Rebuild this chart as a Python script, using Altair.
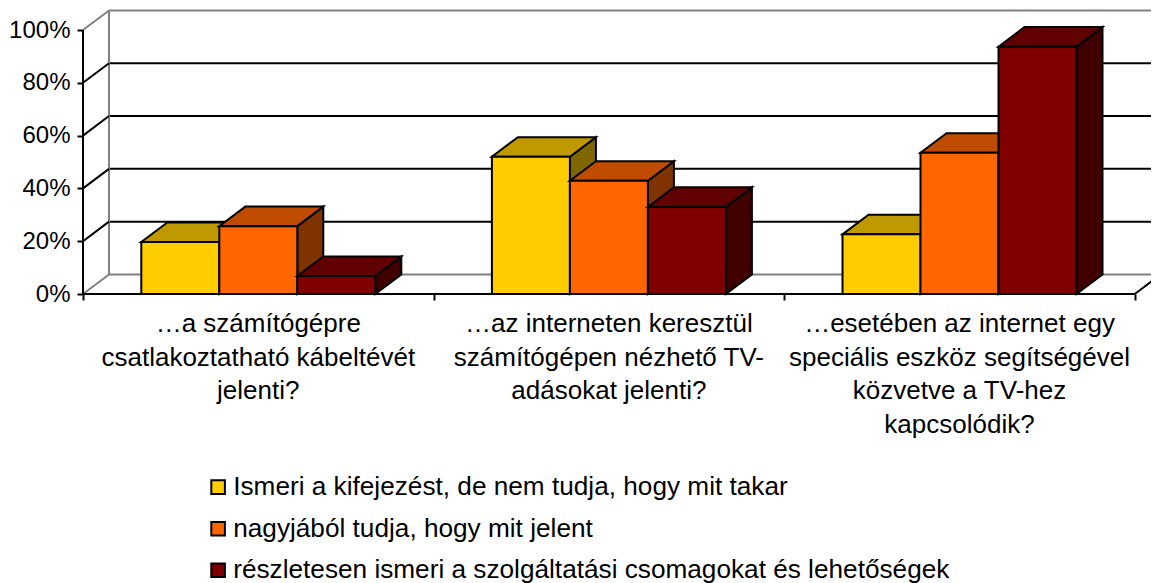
import altair as alt
import pandas as pd

FONT = "Liberation Sans"
categories = [
    ["…a számítógépre", "csatlakoztatható kábeltévét", "jelenti?"],
    ["…az interneten keresztül", "számítógépen nézhető TV-", "adásokat jelenti?"],
    ["…esetében az internet egy", "speciális eszköz segítségével", "közvetve a TV-hez", "kapcsolódik?"],
]
series_names = [
    "Ismeri a kifejezést, de nem tudja, hogy mit takar",
    "nagyjából tudja, hogy mit jelent",
    "részletesen ismeri a szolgáltatási csomagokat és lehetőségek",
]
values_yellow = [19.7, 52.0, 22.6]
values_orange = [25.7, 42.9, 53.5]
values_red = [6.8, 33.0, 93.7]
front_colors = ["#FFCC00", "#FF6600", "#800000"]
top_colors = ["#BF9900", "#BF4C00", "#600000"]
side_colors = ["#7F6600", "#7F3300", "#400000"]
grid_levels = [20, 40, 60, 80]
wall_levels = [0, 100]
y_ticks = [0, 20, 40, 60, 80, 100]

UNIT = 350.6
DX = 26 / UNIT      # depth offset on the category axis
DY = 7.4            # depth offset on the value axis
BAR = 78 / UNIT     # bar width
GAP = (1 - 3 * BAR) / 2
W = 1068
XMAX = W / UNIT
YMAX = 283 / 2.64

xs = alt.Scale(domain=[0, XMAX], nice=False, zero=False)
ys = alt.Scale(domain=[0, YMAX], nice=False, zero=False)
x_axis = alt.Axis(values=[0, 1, 2, 3], labels=False, title=None, grid=False,
                  domain=False, tickSize=6, tickWidth=2, tickColor="#000000")
y_axis = alt.Axis(values=y_ticks, labelExpr="datum.value + '%'", title=None, grid=False,
                  domain=False, tickSize=6, tickWidth=2, tickColor="#000000",
                  labelFont=FONT, labelFontSize=24, labelColor="#000000", labelPadding=7)
X = lambda f="x", **k: alt.X(f, type="quantitative", scale=xs, axis=x_axis, **k)
Y = lambda f="y", **k: alt.Y(f, type="quantitative", scale=ys, axis=y_axis, **k)

layers = []

# back wall: horizontal grid lines, depth diagonals, wall edge
grid = pd.DataFrame({"y": [v + DY for v in grid_levels], "x": DX, "x2": XMAX})
wall = pd.DataFrame({"y": [v + DY for v in wall_levels], "x": DX, "x2": XMAX})
layers.append(alt.Chart(wall).mark_rule(color="#808080", strokeWidth=2).encode(
    x=X(), x2="x2", y=Y()))
layers.append(alt.Chart(grid).mark_rule(color="#000000", strokeWidth=2).encode(
    x=X(), x2="x2", y=Y()))
layers.append(alt.Chart(pd.DataFrame({"x": [DX], "y": [DY], "y2": [100 + DY]}))
              .mark_rule(color="#808080", strokeWidth=2).encode(x=X(), y=Y(), y2="y2"))


def diag(levels, x0):
    return pd.DataFrame(
        [{"k": v, "x": x0, "y": v} for v in levels]
        + [{"k": v, "x": x0 + DX, "y": v + DY} for v in levels])


layers.append(alt.Chart(diag(wall_levels, 0)).mark_line(color="#808080", strokeWidth=2).encode(
    x=X(), y=Y(), detail="k:N"))
layers.append(alt.Chart(diag(grid_levels, 0)).mark_line(color="#000000", strokeWidth=2).encode(
    x=X(), y=Y(), detail="k:N"))
layers.append(alt.Chart(diag([0], 3)).mark_line(color="#000000", strokeWidth=2).encode(
    x=X(), y=Y(), detail="k:N"))

# bars, left to right, series by series
all_values = [values_yellow, values_orange, values_red]
for i, vals in enumerate(all_values):
    side, top, front = [], [], []
    for c, v in enumerate(vals):
        x0 = c + GAP + i * BAR
        x1 = x0 + BAR
        side += [{"c": c, "x": x1, "y": 0, "y2": v}, {"c": c, "x": x1 + DX, "y": DY, "y2": v + DY}]
        top += [{"c": c, "y": v, "x": x0, "x2": x1}, {"c": c, "y": v + DY, "x": x0 + DX, "x2": x1 + DX}]
        front.append({"x": x0, "x2": x1, "y": 0, "y2": v, "s": series_names[i]})
    layers.append(alt.Chart(pd.DataFrame(side)).mark_area(
        color=side_colors[i], stroke="#000000", strokeWidth=2, strokeJoin="miter").encode(
        x=X(), y=Y(stack=None), y2="y2", detail="c:N"))
    layers.append(alt.Chart(pd.DataFrame(top)).mark_area(
        orient="horizontal", color=top_colors[i], stroke="#000000", strokeWidth=2, strokeJoin="miter").encode(
        y=Y(), x=X(stack=None), x2="x2", detail="c:N"))
    layers.append(alt.Chart(pd.DataFrame(front)).mark_rect(stroke="#000000", strokeWidth=2).encode(
        x=X(), x2="x2", y=Y(), y2="y2",
        color=alt.Color("s:N", scale=alt.Scale(domain=series_names, range=front_colors),
                        legend=alt.Legend(
                            title=None, orient="none", legendX=122, legendY=463, padding=0,
                            symbolType="square", symbolSize=185, symbolStrokeColor="#000000",
                            symbolStrokeWidth=2, symbolOpacity=1, labelFont=FONT, labelFontSize=26.2,
                            labelColor="#000000", labelLimit=1000, labelOffset=2, rowPadding=14.6,
                            direction="vertical"))))

# front axis lines
layers.append(alt.Chart(pd.DataFrame({"y": [0], "x": [0], "x2": [3]})).mark_rule(
    color="#000000", strokeWidth=2).encode(x=X(), x2="x2", y=Y()))
layers.append(alt.Chart(pd.DataFrame({"x": [0], "y": [0], "y2": [100]})).mark_rule(
    color="#000000", strokeWidth=2).encode(x=X(), y=Y(), y2="y2"))

# category labels
labels = pd.DataFrame({"x": [0.5, 1.5, 2.5], "y": [0, 0, 0], "t": categories})
layers.append(alt.Chart(labels).mark_text(
    font=FONT, fontSize=26, baseline="top", align="center", dy=17, lineHeight=33.5, color="#000000").encode(
    x=X(), y=Y(), text="t:N"))

chart = alt.layer(*layers).properties(
    width=W, height=283,
    autosize=alt.AutoSizeParams(type="none"),
    padding={"left": 75, "top": 3, "right": 0, "bottom": 289},
    background="#ffffff",
).configure_view(stroke=None)

chart.save("out.html", embed_options={"renderer": "svg", "actions": False})
